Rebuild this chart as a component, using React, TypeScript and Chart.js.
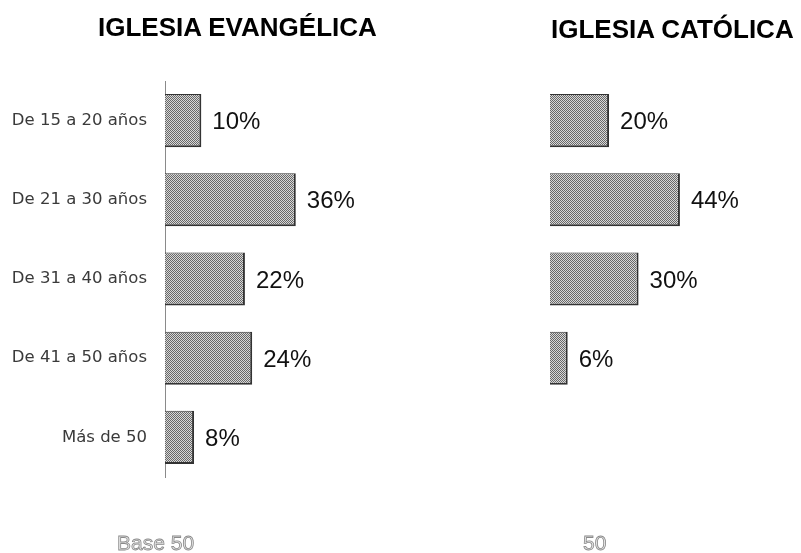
import React, { useEffect, useRef } from "react";
import { Chart, registerables } from "chart.js";

Chart.register(...registerables);

const categories = ["De 15 a 20 años", "De 21 a 30 años", "De 31 a 40 años", "De 41 a 50 años", "Más de 50"];
const evangelica: (number | null)[] = [10, 36, 22, 24, 8];
const catolica: (number | null)[] = [20, 44, 30, 6, null];
const titleLeft = "IGLESIA EVANGÉLICA";
const titleRight = "IGLESIA CATÓLICA";
const baseLeft = "Base 50";
const baseRight = "50";

function makePattern(): CanvasPattern | string {
  const c = document.createElement("canvas");
  c.width = 2;
  c.height = 2;
  const g = c.getContext("2d");
  if (!g) return "#9a9a9a";
  g.fillStyle = "#d8d8d8";
  g.fillRect(0, 0, 2, 2);
  g.fillStyle = "#686868";
  g.fillRect(0, 0, 1, 1);
  g.fillRect(1, 1, 1, 1);
  const p = g.createPattern(c, "repeat");
  return p || "#9a9a9a";
}

const valueLabels = {
  id: "valueLabels",
  afterDatasetsDraw(chart: any) {
    const ctx = chart.ctx;
    ctx.save();
    ctx.font = '24px "Liberation Sans", Arial, sans-serif';
    ctx.fillStyle = "#111";
    ctx.textBaseline = "middle";
    ctx.textAlign = "left";
    chart.data.datasets.forEach((ds: any, di: number) => {
      const meta = chart.getDatasetMeta(di);
      meta.data.forEach((bar: any, i: number) => {
        const v = ds.data[i];
        if (v === null || v === undefined) return;
        ctx.fillText(v + "%", bar.x + 11, bar.y + 2);
      });
    });
    ctx.restore();
  },
};

function makeConfig(data: (number | null)[], showAxis: boolean, axisWidth: number, max: number, padding: any): any {
  return {
    type: "bar",
    data: {
      labels: categories,
      datasets: [
        {
          data,
          backgroundColor: makePattern(),
          borderColor: "#333",
          borderWidth: { top: 1, right: 2, bottom: 2, left: 0 },
          borderSkipped: false,
          barPercentage: 0.67,
          categoryPercentage: 1,
        },
      ],
    },
    options: {
      indexAxis: "y",
      responsive: false,
      animation: false,
      layout: { padding },
      plugins: { legend: { display: false }, tooltip: { enabled: false }, title: { display: false } },
      scales: {
        x: { display: false, min: 0, max },
        y: {
          display: showAxis,
          grid: { display: false, drawTicks: false },
          border: { display: true, color: "#8a8a8a", dash: [1, 3], width: 1 },
          ticks: {
            padding: 18,
            color: "#3a3a3a",
            font: { family: '"DejaVu Sans", Verdana, sans-serif', size: 16.5 },
          },
          afterFit(scale: any) {
            scale.width = axisWidth;
          },
        },
      },
    },
    plugins: [valueLabels],
  };
}

export default function App() {
  const leftRef = useRef<HTMLCanvasElement>(null);
  const rightRef = useRef<HTMLCanvasElement>(null);

  useEffect(() => {
    document.body.style.margin = "0";
    const a = new Chart(
      leftRef.current as HTMLCanvasElement,
      makeConfig(evangelica, true, 165, 60, { top: 81, bottom: 76, left: 0, right: 17 })
    );
    const b = new Chart(
      rightRef.current as HTMLCanvasElement,
      makeConfig(catolica, false, 0, 85, { top: 81, bottom: 76, left: 10, right: 0 })
    );
    return () => {
      a.destroy();
      b.destroy();
    };
  }, []);

  const titleStyle: React.CSSProperties = {
    position: "absolute",
    font: 'bold 26px "Liberation Sans", Arial, sans-serif',
    lineHeight: "26px",
    color: "#000",
    whiteSpace: "nowrap",
  };
  const baseStyle: React.CSSProperties = {
    position: "absolute",
    font: '21px "Liberation Sans", Arial, sans-serif',
    lineHeight: "21px",
    color: "#e6e6e6",
    WebkitTextStroke: "0.8px #8a8a8a",
    whiteSpace: "nowrap",
  };

  return (
    <div style={{ position: "fixed", left: 0, top: 0, width: 801, height: 553, background: "#fff", overflow: "hidden" }}>
      <canvas ref={leftRef} width={400} height={553} style={{ position: "absolute", left: 0, top: 0 }} />
      <canvas ref={rightRef} width={261} height={553} style={{ position: "absolute", left: 540, top: 0 }} />
      <div style={{ ...titleStyle, left: 98, top: 14 }}>{titleLeft}</div>
      <div style={{ ...titleStyle, left: 551, top: 16 }}>{titleRight}</div>
      <div style={{ ...baseStyle, left: 117, top: 532 }}>{baseLeft}</div>
      <div style={{ ...baseStyle, left: 583, top: 532 }}>{baseRight}</div>
    </div>
  );
}
